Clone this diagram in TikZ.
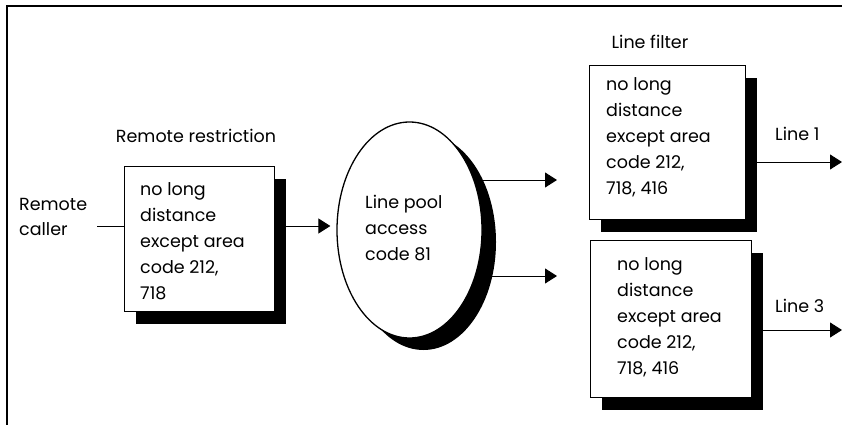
\documentclass[tikz,border=0pt]{standalone}
\usepackage{fontspec}
\setmainfont{Poppins}
\usetikzlibrary{arrows.meta,shapes.geometric,shadows,backgrounds}
\begin{document}
\begin{tikzpicture}[x=1pt,y=-1pt,
  shbox/.style={draw=black, line width=1.3pt, fill=white, rectangle, inner sep=0pt, anchor=north west,
    drop shadow={shadow xshift=11pt, shadow yshift=-12pt, opacity=1, fill=black}},
  txt/.style={font=\fontsize{17.5}{26.2}\selectfont, align=left, anchor=base west, inner sep=0pt},
  conn/.style={line width=1pt},
  arr/.style={conn, -{Triangle[length=12pt,width=15pt]}},
]
\useasboundingbox (0,0) rectangle (842,425);
% boxes
\node[shbox, minimum width=150pt, minimum height=145pt] (rr) at (124,166) {};
\node[shbox, minimum width=156pt, minimum height=154pt] (lf) at (589,65) {};
\node[shbox, minimum width=161pt, minimum height=157pt] (lf2) at (590,240) {};
\node[ellipse, draw=black, line width=1.3pt, fill=white, minimum width=145pt, minimum height=216pt, inner sep=0pt,
  drop shadow={shadow xshift=14pt, shadow yshift=-12pt, opacity=1, fill=black}] (lp) at (409.5,230) {};
% texts (anchored at the baseline of the last line)
\node[txt] (rrt) at (140,299.8) {no long\\distance\\except area\\code 212,\\718};
\node[txt] (lpt) at (365,260.4) {Line pool\\access\\code 81};
\node[txt] (lft) at (606,194.8) {no long\\distance\\except area\\code 212,\\718, 416};
\node[txt] (lf2t) at (617,374.8) {no long\\distance\\except area\\code 212,\\718, 416};
\node[txt, font=\fontsize{17.5}{25}\selectfont] (rc) at (19,235) {Remote\\caller};
\node[txt, anchor=base] (rrl) at (196,142) {Remote restriction};
\node[txt, anchor=base] (lfl) at (650,49) {Line filter};
\node[txt] (l1) at (775,140) {Line 1};
\node[txt] (l3) at (775,312) {Line 3};
% connectors
\coordinate (cin) at (97,226);
\coordinate (o1) at (842,162);
\coordinate (o3) at (842,330);
\begin{scope}[on background layer]
\fill[white] (0,0) rectangle (842,425);
\draw[conn] (cin) -- (cin -| rr.west);
\draw[arr, shorten >=6pt] (cin -| rr.east) -- (cin -| lp.west);
\draw[arr, shorten >=32pt] (lp.center |- 0,180) -- (lf.west |- 0,180);
\draw[arr, shorten >=33pt] (lp.center |- 0,276) -- (lf2.west |- 0,276);
\draw[arr] (lf.east |- o1) -- (o1);
\draw[arr] (lf2.east |- o3) -- (o3);
\end{scope}
% frame
\draw[line width=2.4pt] (7,425) -- (7,6) -- (842,6);
\end{tikzpicture}
\end{document}
